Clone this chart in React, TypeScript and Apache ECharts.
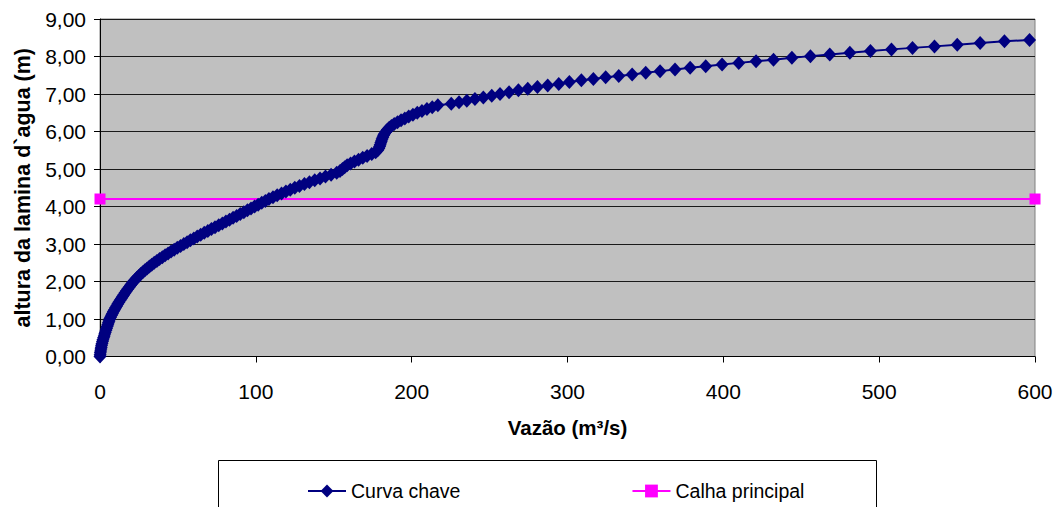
import React, { useEffect, useRef } from "react";
import * as echarts from "echarts";

// Rating curve: water stage (m) against discharge (m³/s)
const curveStage = [
  0.0, 0.05, 0.1, 0.15, 0.2, 0.25, 0.3, 0.35, 0.4, 0.45,
  0.5, 0.55, 0.6, 0.65, 0.7, 0.75, 0.8, 0.85, 0.9, 0.95,
  1.0, 1.05, 1.1, 1.15, 1.2, 1.25, 1.3, 1.35, 1.4, 1.45,
  1.5, 1.55, 1.6, 1.65, 1.7, 1.75, 1.8, 1.85, 1.9, 1.95,
  2.0, 2.05, 2.1, 2.15, 2.2, 2.25, 2.3, 2.35, 2.4, 2.45,
  2.5, 2.55, 2.6, 2.65, 2.7, 2.75, 2.8, 2.85, 2.9, 2.95,
  3.0, 3.05, 3.1, 3.15, 3.2, 3.25, 3.3, 3.35, 3.4, 3.45,
  3.5, 3.55, 3.6, 3.65, 3.7, 3.75, 3.8, 3.85, 3.9, 3.95,
  4.0, 4.05, 4.1, 4.15, 4.2, 4.25, 4.3, 4.35, 4.4, 4.45,
  4.5, 4.55, 4.6, 4.65, 4.7, 4.75, 4.8, 4.85, 4.9, 4.95,
  5.0, 5.05, 5.1, 5.15, 5.2, 5.25, 5.3, 5.35, 5.4, 5.45,
  5.5, 5.55, 5.6, 5.65, 5.7, 5.75, 5.8, 5.85, 5.9, 5.95,
  6.0, 6.05, 6.1, 6.15, 6.2, 6.25, 6.3, 6.35, 6.4, 6.45,
  6.5, 6.55, 6.6, 6.65, 6.7,
  6.74, 6.78, 6.82, 6.865,
  6.91, 6.955, 7.0, 7.045, 7.1, 7.14, 7.185, 7.23, 7.27, 7.32,
  7.365, 7.4, 7.445, 7.48, 7.52, 7.565, 7.61, 7.655, 7.7, 7.74,
  7.785, 7.83, 7.875, 7.915, 7.965, 8.01, 8.055, 8.1, 8.145, 8.19,
  8.23, 8.27, 8.315, 8.36, 8.405, 8.44,
];

const curveFlow = [
  0.0, 0.1, 0.2, 0.4, 0.6, 0.8, 1.0, 1.3, 1.6, 1.9,
  2.3, 2.7, 3.0, 3.4, 3.8, 4.2, 4.6, 5.0, 5.4, 5.8,
  6.2, 6.8, 7.4, 8.0, 8.6, 9.3, 10.0, 10.7, 11.4, 12.1,
  12.9, 13.7, 14.5, 15.3, 16.1, 16.9, 17.8, 18.7, 19.6, 20.5,
  21.5, 22.6, 23.7, 24.9, 26.1, 27.4, 28.8, 30.2, 31.7, 33.2,
  34.8, 36.5, 38.2, 40.0, 41.8, 43.7, 45.6, 47.6, 49.6, 51.7,
  53.8, 55.9, 58.0, 60.2, 62.4, 64.6, 66.9, 69.2, 71.5, 73.8,
  76.2, 78.5, 80.8, 83.1, 85.4, 87.7, 90.0, 92.3, 94.6, 96.9,
  99.2, 101.5, 103.8, 106.1, 108.4, 111.0, 113.7, 116.5, 119.3, 122.1,
  125.0, 128.0, 131.2, 134.4, 137.8, 141.2, 144.7, 148.3, 151.9, 154.0,
  155.6, 157.0, 158.6, 160.8, 163.3, 165.9, 168.6, 171.4, 174.4, 176.9,
  178.2, 178.9, 179.4, 179.8, 180.2, 180.6, 181.0, 181.5, 182.0, 182.7,
  183.5, 184.4, 185.6, 187.0, 188.8, 190.9, 193.2, 195.6, 198.1, 200.8,
  203.6, 206.6, 209.8, 213.2, 216.8,
  225.4, 230.4, 235.4, 240.6,
  246.0, 251.4, 256.7, 262.5, 268.5, 274.5, 280.7, 287.3, 294.4, 301.2,
  308.9, 316.6, 324.5, 332.9, 341.5, 350.2, 359.4, 369.0, 378.7, 388.7,
  399.2, 409.9, 421.0, 432.2, 444.0, 455.9, 468.3, 481.2, 494.4, 507.9,
  521.4, 535.5, 550.1, 564.8, 580.4, 596.5,
];

// Main channel bank level
const channelFlow = [0, 600];
const channelStage = [4.2, 4.2];

const xTicks = [0, 100, 200, 300, 400, 500, 600];
const yTicks = [0, 1, 2, 3, 4, 5, 6, 7, 8, 9];

const FONT = "'Liberation Sans', Arial, sans-serif";

export default function App() {
  const ref = useRef<HTMLDivElement>(null);

  useEffect(() => {
    if (!ref.current) return;
    const chart = echarts.init(ref.current, undefined, { renderer: "svg" });

    const n = Math.min(curveFlow.length, curveStage.length);
    const curveData = [];
    for (let i = 0; i < n; i++) curveData.push([curveFlow[i], curveStage[i]]);
    const channelData = channelFlow.map((q, i) => [q, channelStage[i]]);

    chart.setOption({
      animation: false,
      backgroundColor: "#ffffff",
      textStyle: { fontFamily: FONT },
      grid: {
        left: 100,
        right: 28,
        top: 19,
        bottom: 150.5,
        show: true,
        backgroundColor: "#C0C0C0",
        borderColor: "#808080",
        borderWidth: 1,
      },
      xAxis: {
        type: "value",
        min: xTicks[0],
        max: xTicks[xTicks.length - 1],
        interval: 100,
        name: "Vazão (m³/s)",
        nameLocation: "middle",
        nameGap: 60,
        nameTextStyle: { fontFamily: FONT, fontSize: 20.5, fontWeight: "bold", color: "#000" },
        axisLine: { show: true, onZero: false, lineStyle: { color: "#000", width: 1 } },
        axisTick: { show: true, length: 6, lineStyle: { color: "#000" } },
        axisLabel: { margin: 24, fontFamily: FONT, fontSize: 21, color: "#000" },
        splitLine: { show: false },
      },
      yAxis: {
        type: "value",
        min: yTicks[0],
        max: yTicks[yTicks.length - 1],
        interval: 1,
        name: "altura da lamina d`agua (m)",
        nameLocation: "middle",
        nameGap: 65,
        nameTextStyle: { fontFamily: FONT, fontSize: 21.5, fontWeight: "bold", color: "#000" },
        axisLine: { show: true, lineStyle: { color: "#000", width: 1 } },
        axisTick: { show: true, length: 6, lineStyle: { color: "#000" } },
        axisLabel: {
          margin: 14,
          fontFamily: FONT,
          fontSize: 21,
          color: "#000",
          formatter: (v: number) => v.toFixed(2).replace(".", ","),
        },
        splitLine: { show: true, lineStyle: { color: "#1a1a1a", width: 1 } },
      },
      legend: {
        left: 302,
        top: 476,
        itemWidth: 38,
        itemHeight: 16,
        itemGap: 171,
        z: 10,
        textStyle: { fontFamily: FONT, fontSize: 19.5, color: "#000" },
        data: ["Curva chave", "Calha principal"],
      },
      graphic: [
        {
          type: "rect",
          z: 0,
          shape: { x: 218.5, y: 460.5, width: 658, height: 60 },
          style: { fill: "#ffffff", stroke: "#000000", lineWidth: 1 },
        },
      ],
      series: [
        {
          name: "Calha principal",
          type: "line",
          data: channelData,
          symbol: "rect",
          symbolSize: 11,
          showAllSymbol: true,
          lineStyle: { color: "#FF00FF", width: 2 },
          itemStyle: { color: "#FF00FF" },
          z: 3,
        },
        {
          name: "Curva chave",
          type: "line",
          data: curveData,
          symbol: "diamond",
          symbolSize: [13, 14],
          showAllSymbol: true,
          lineStyle: { color: "#000080", width: 2 },
          itemStyle: { color: "#000080" },
          z: 4,
        },
      ],
    });

    return () => chart.dispose();
  }, []);

  return (
    <div
      ref={ref}
      style={{ position: "fixed", left: 0, top: 0, width: 1063, height: 507 }}
    />
  );
}
